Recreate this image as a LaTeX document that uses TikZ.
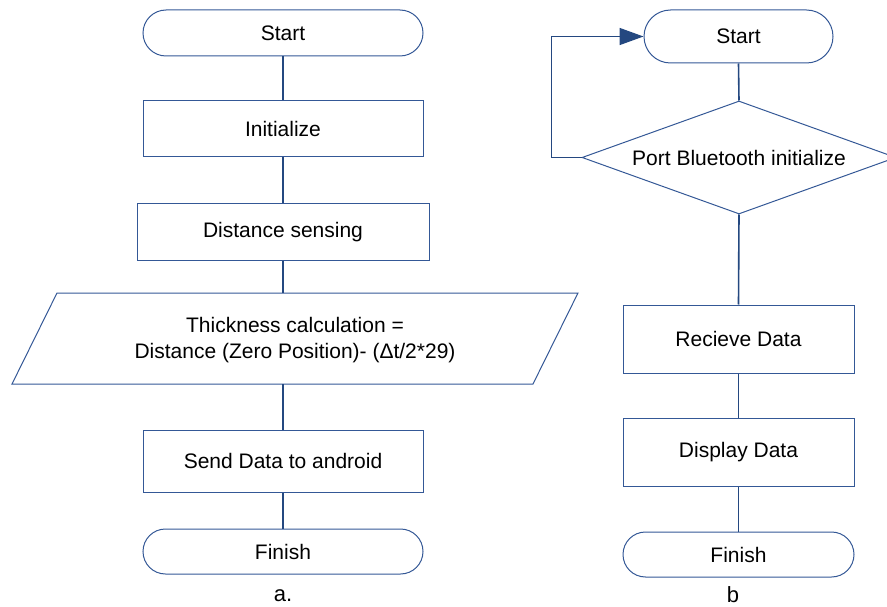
\documentclass[tikz,border=0pt]{standalone}
\usepackage{fontspec}
\setmainfont{Liberation Sans}
\usetikzlibrary{shapes.geometric,arrows.meta}
\definecolor{bordc}{RGB}{52,88,150}
\definecolor{connc}{RGB}{36,72,128}
\tikzset{
  every node/.style={font=\fontsize{21}{26}\selectfont, text=black},
  boxnode/.style={draw=bordc, line width=1pt, rectangle, inner sep=0pt},
  termnode/.style={draw=bordc, line width=1pt, rectangle, rounded corners=#1, inner sep=0pt},
  conn/.style={draw=connc, line width=1.6pt},
  capnode/.style={font=\fontsize{22}{26}\selectfont, inner sep=0pt},
}
\begin{document}
\begin{tikzpicture}[x=1pt,y=-1pt]
\useasboundingbox (0,0) rectangle (887,607);
% left chart
\node[termnode=23pt, minimum width=280pt, minimum height=46pt] (lstart) at (283,33) {Start};
\node[boxnode, minimum width=280pt, minimum height=56pt] (init) at (283,129) {Initialize};
\node[boxnode, minimum width=292pt, minimum height=56pt] (dist) at (283,232) {Distance sensing};
\draw[bordc, line width=1pt] (57,293) -- (578,293) -- (533,384) -- (12,384) -- cycle;
\node[inner sep=0pt, minimum width=521pt, minimum height=91pt, align=center] (calc) at (295,340.5) {Thickness calculation =\\Distance (Zero Position)- (Δt/2*29)};
\node[boxnode, minimum width=280pt, minimum height=62pt] (send) at (283,461) {Send Data to android};
\node[termnode=22.5pt, minimum width=280pt, minimum height=45pt] (lfin) at (283,551.5) {Finish};
\node[capnode] (la) at (283,596) {a.};
\draw[conn] (lstart.south) -- (init.north);
\draw[conn] (init.south) -- (dist.north);
\draw[conn] (dist.south) -- (dist.south |- 0,293);
\draw[conn] (send.north |- 0,384) -- (send.north);
\draw[conn] (send.south) -- (lfin.north);
% right chart
\node[termnode=26.5pt, minimum width=189pt, minimum height=53pt] (rstart) at (738.5,36.5) {Start};
\node[draw=bordc, line width=1pt, diamond, aspect=2.78, inner sep=0pt, minimum width=314pt, minimum height=113pt] (port) at (739,157.5) {Port Bluetooth initialize};
\node[boxnode, minimum width=231pt, minimum height=68pt] (recv) at (738.5,339) {Recieve Data};
\node[boxnode, minimum width=231pt, minimum height=68pt] (disp) at (738.5,452) {Display Data};
\node[termnode=22.5pt, minimum width=231pt, minimum height=45pt] (rfin) at (738.5,554.5) {Finish};
\node[capnode] (lb) at (733,595) {b};
\draw[conn] (rstart.south) -- (port.north);
\draw[conn] (port.south) -- (recv.north);
\draw[conn] (recv.south) -- (disp.north);
\draw[conn] (disp.south) -- (rfin.north);
\draw[conn, -{Triangle[length=24pt,width=17pt]}] (port.west) -- ++(-30,0) |- (rstart.west);
\end{tikzpicture}
\end{document}
